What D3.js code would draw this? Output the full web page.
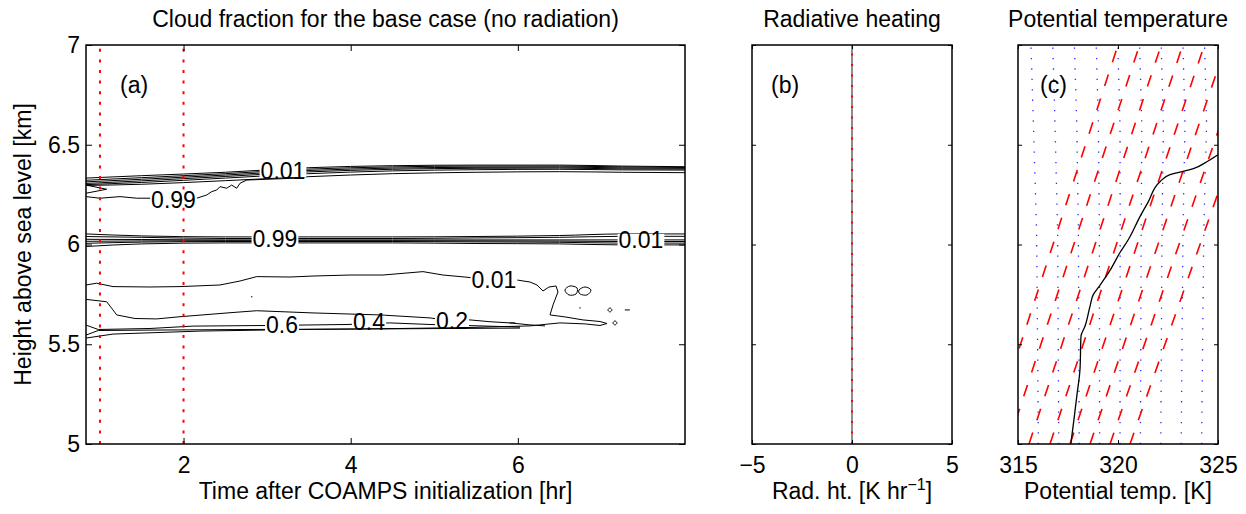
<!DOCTYPE html>
<html>
<head>
<meta charset="utf-8">
<script src="https://cdn.jsdelivr.net/npm/d3@7"></script>
<style>
  body { margin: 0; background: #fff; }
  svg { font-family: "Liberation Sans", Arial, Helvetica, sans-serif; }
</style>
</head>
<body>
<div id="chart"></div>
<script>
// ---- data ----
const heightTicks = [5, 5.5, 6, 6.5, 7];
const timeTicks = [2, 4, 6];
const heatTicks = [-5, 0, 5];
const thetaTicks = [315, 320, 325];
const markerTimes = [1, 2];

// (a) cloud fraction contours, time [hr] / height [km]
const bandTime = [0.833, 1.5, 2.5, 3.5, 4.5, 5.5, 6.5, 7.25, 8.0];
const upperBand = [
  [6.333, 6.345, 6.362, 6.385, 6.395, 6.398, 6.398, 6.393, 6.390],
  [6.322, 6.335, 6.355, 6.378, 6.389, 6.393, 6.393, 6.389, 6.386],
  [6.314, 6.327, 6.348, 6.371, 6.383, 6.387, 6.388, 6.384, 6.382],
  [6.306, 6.319, 6.341, 6.364, 6.377, 6.382, 6.383, 6.379, 6.378],
  [6.300, 6.311, 6.333, 6.355, 6.369, 6.375, 6.377, 6.374, 6.373],
  [6.296, 6.302, 6.320, 6.340, 6.355, 6.362, 6.365, 6.362, 6.360]
];
const middleBand = [
  [6.053, 6.043, 6.038, 6.038, 6.038, 6.040, 6.045, 6.053, 6.053],
  [6.040, 6.036, 6.030, 6.030, 6.030, 6.033, 6.036, 6.041, 6.041],
  [6.026, 6.025, 6.023, 6.023, 6.023, 6.023, 6.023, 6.023, 6.023],
  [6.016, 6.018, 6.019, 6.019, 6.019, 6.018, 6.017, 6.015, 6.015],
  [6.006, 6.012, 6.015, 6.015, 6.015, 6.013, 6.011, 6.007, 6.007],
  [5.990, 6.003, 6.008, 6.008, 6.008, 6.005, 6.003, 5.998, 5.998]
];
const upperTip = [[0.833, 6.298], [1.080, 6.277], [0.833, 6.257]];
const upperWiggle = [
  [0.833, 6.240], [1.0, 6.232], [1.24, 6.240], [1.44, 6.232], [1.599, 6.232], [1.874, 6.228],
  [2.157, 6.232], [2.277, 6.248], [2.337, 6.265], [2.397, 6.273], [2.436, 6.290], [2.516, 6.282],
  [2.576, 6.298], [2.636, 6.282], [2.676, 6.307], [2.756, 6.323], [2.995, 6.327], [3.394, 6.333]
];
const lowerOuter = [
  [0.833, 5.797], [0.961, 5.806], [1.156, 5.789], [1.599, 5.787], [1.958, 5.789], [2.436, 5.797],
  [2.676, 5.817], [2.875, 5.839], [3.274, 5.837], [3.549, 5.842], [3.992, 5.847], [4.386, 5.847],
  [4.865, 5.864], [5.104, 5.847], [5.367, 5.837], [5.714, 5.822], [5.990, 5.822], [6.145, 5.812],
  [6.229, 5.797], [6.301, 5.767], [6.373, 5.787], [6.457, 5.792], [6.480, 5.762], [6.421, 5.697],
  [6.385, 5.647], [6.564, 5.637], [6.779, 5.622], [6.983, 5.614], [7.066, 5.604], [6.983, 5.594],
  [6.803, 5.602], [6.504, 5.607], [6.145, 5.592], [5.427, 5.584], [4.590, 5.579], [3.394, 5.574],
  [2.197, 5.566], [1.156, 5.551], [0.833, 5.531]
];
const lowerMid = [
  [0.833, 5.725], [1.080, 5.713], [1.156, 5.672], [1.200, 5.647], [1.419, 5.629], [1.679, 5.627],
  [1.958, 5.638], [2.556, 5.658], [2.875, 5.668], [3.549, 5.657], [4.351, 5.647], [4.949, 5.632],
  [5.212, 5.617], [5.427, 5.622], [5.666, 5.613], [5.906, 5.607], [6.145, 5.597], [6.325, 5.592]
];
const lowerInner = [
  [0.833, 5.596], [0.980, 5.574], [1.599, 5.579], [2.113, 5.591], [2.999, 5.594], [3.370, 5.596],
  [3.956, 5.599], [4.467, 5.607], [4.949, 5.599], [5.547, 5.592], [6.026, 5.586]
];
const lowerBase = [
  [0.833, 5.546], [0.980, 5.569], [1.599, 5.571], [2.795, 5.574], [3.992, 5.576], [5.188, 5.579],
  [6.026, 5.581]
];
const islands = [
  [[6.564, 5.772], [6.624, 5.792], [6.708, 5.782], [6.696, 5.752], [6.612, 5.747]],
  [[6.732, 5.772], [6.804, 5.787], [6.875, 5.772], [6.827, 5.747], [6.744, 5.752]],
  [[7.078, 5.672], [7.102, 5.682], [7.126, 5.672], [7.102, 5.662]],
  [[7.138, 5.607], [7.162, 5.617], [7.186, 5.607], [7.162, 5.597]]
];
const specks = [
  [[7.28, 5.672], [7.34, 5.672]],
  [[6.735, 5.682], [6.752, 5.682]],
  [[2.807, 5.738], [2.824, 5.738]],
  [[5.90, 5.607], [5.97, 5.607]]
];
const contourLabels = [
  { text: "0.01", t: 3.19, z: 6.368 },
  { text: "0.99", t: 1.88, z: 6.226 },
  { text: "0.99", t: 3.094, z: 6.028 },
  { text: "0.01", t: 7.473, z: 6.023 },
  { text: "0.01", t: 5.714, z: 5.822 },
  { text: "0.6", t: 3.178, z: 5.596 },
  { text: "0.4", t: 4.219, z: 5.612 },
  { text: "0.2", t: 5.212, z: 5.617 }
];

// (b) radiative heating profile (zero everywhere)
const heatProfile = [[0, 5], [0, 7]];

// (c) potential temperature profile
const profileTheta = [317.64, 317.80, 317.94, 318.10, 318.15, 318.35, 318.60, 318.77, 319.02, 319.60,
  320.10, 320.52, 321.10, 321.52, 322.10, 322.60, 323.77, 324.44, 325.0];
const profileHeight = [5.0, 5.125, 5.24, 5.375, 5.54, 5.59, 5.69, 5.75, 5.785, 5.87,
  5.96, 6.025, 6.14, 6.215, 6.315, 6.35, 6.38, 6.415, 6.45];
// blue dotted reference lines: theta at heights blueHeights
const blueHeights = [5, 6.07, 6.6, 7];
const blueLines = [
  [316.02, 315.93, 315.77, 315.65],
  [317.04, 316.98, 316.85, 316.74],
  [318.06, 318.02, 317.94, 317.82],
  [319.08, 319.07, 319.02, 318.91],
  [320.10, 320.11, 320.10, 319.99],
  [321.12, 321.16, 321.19, 321.08],
  [322.14, 322.20, 322.27, 322.16],
  [323.16, 323.25, 323.35, 323.25],
  [324.18, 324.29, 324.43, 324.33]
];
// red dashed reference lines: theta at 5 km and at 7 km
const redBottom = [313.5, 314.5, 315.55, 316.6, 317.6, 318.6, 319.6, 320.6];
const redTop = [320.0, 321.08, 322.16, 323.24, 324.32, 325.4, 326.5, 327.6];

// ---- drawing ----
const width = 1246, height = 514;
const FS = 23;

const svg = d3.select("#chart").append("svg")
  .attr("width", width)
  .attr("height", height);

const y = d3.scaleLinear().domain([5, 7]).range([444, 45]);
const xa = d3.scaleLinear().domain([0.833, 8]).range([86, 685]);
const xb = d3.scaleLinear().domain([-5, 5]).range([752, 952]);
const xc = d3.scaleLinear().domain([315, 325]).range([1018, 1218]);

const defs = svg.append("defs");
function clip(id, x) {
  defs.append("clipPath").attr("id", id).append("rect")
    .attr("x", x.range()[0]).attr("y", y.range()[1])
    .attr("width", x.range()[1] - x.range()[0])
    .attr("height", y.range()[0] - y.range()[1]);
}
clip("clip-a", xa); clip("clip-b", xb); clip("clip-c", xc);

function styleAxis(sel) {
  sel.attr("font-family", null).attr("font-size", FS);
  sel.select(".domain").remove();
  sel.selectAll(".tick line").attr("stroke", "#000").attr("stroke-width", 1);
}

function drawAxes(x, xTicks, fmt, tick, withYLabels) {
  const [x0, x1] = x.range();
  const [yb, yt] = y.range();
  const g = svg.append("g");
  g.append("g").attr("transform", `translate(0,${yb})`)
    .call(d3.axisBottom(x).tickValues(xTicks).tickFormat(fmt)
      .tickSizeInner(-tick).tickSizeOuter(0).tickPadding(13))
    .call(styleAxis);
  g.append("g").attr("transform", `translate(0,${yt})`)
    .call(d3.axisTop(x).tickValues(xTicks).tickFormat("")
      .tickSizeInner(-tick).tickSizeOuter(0))
    .call(styleAxis);
  g.append("g").attr("transform", `translate(${x0},0)`)
    .call(d3.axisLeft(y).tickValues(heightTicks)
      .tickFormat(withYLabels ? d3.format("") : "")
      .tickSizeInner(-tick).tickSizeOuter(0).tickPadding(6))
    .call(styleAxis);
  g.append("g").attr("transform", `translate(${x1},0)`)
    .call(d3.axisRight(y).tickValues(heightTicks).tickFormat("")
      .tickSizeInner(-tick).tickSizeOuter(0))
    .call(styleAxis);
  g.append("rect")
    .attr("x", x0).attr("y", yt)
    .attr("width", x1 - x0).attr("height", yb - yt)
    .attr("fill", "none").attr("stroke", "#000").attr("stroke-width", 1.5);
}

// ---- panel (a) ----
const lineA = d3.line().x(d => xa(d[0])).y(d => y(d[1]));
const smoothA = d3.line().x(d => xa(d[0])).y(d => y(d[1])).curve(d3.curveMonotoneX);
const closedA = d3.line().x(d => xa(d[0])).y(d => y(d[1])).curve(d3.curveCardinalClosed);

const ga = svg.append("g").attr("clip-path", "url(#clip-a)");
const cont = ga.append("g").attr("fill", "none").attr("stroke", "#000").attr("stroke-width", 1);

upperBand.concat(middleBand).forEach(zs => {
  cont.append("path").attr("d", smoothA(bandTime.map((t, i) => [t, zs[i]])));
});
[upperTip, upperWiggle, lowerOuter, lowerMid, lowerInner, lowerBase].concat(specks)
  .forEach(pts => cont.append("path").attr("d", lineA(pts)));
islands.forEach(pts => cont.append("path").attr("d", closedA(pts)));

markerTimes.forEach(t => {
  ga.append("line")
    .attr("x1", xa(t)).attr("x2", xa(t))
    .attr("y1", y(5)).attr("y2", y(7))
    .attr("stroke", "#ff0000").attr("stroke-width", 2)
    .attr("stroke-dasharray", "3,7.6");
});

const labs = ga.append("g");
contourLabels.forEach(d => {
  const t = labs.append("text")
    .attr("x", xa(d.t)).attr("y", y(d.z))
    .attr("dy", "0.36em")
    .attr("text-anchor", "middle")
    .attr("font-size", FS)
    .text(d.text);
  const bb = t.node().getBBox();
  labs.insert("rect", () => t.node())
    .attr("x", bb.x - 1).attr("y", y(d.z) - 6)
    .attr("width", bb.width + 2).attr("height", 12)
    .attr("fill", "#fff");
});

drawAxes(xa, timeTicks, d3.format("d"), 6, true);

// ---- panel (b) ----
const lineB = d3.line().x(d => xb(d[0])).y(d => y(d[1]));
const gb = svg.append("g").attr("clip-path", "url(#clip-b)");
gb.append("path").attr("d", lineB(heatProfile))
  .attr("fill", "none").attr("stroke", "#666").attr("stroke-width", 1.5);
gb.append("path").attr("d", lineB(heatProfile))
  .attr("fill", "none").attr("stroke", "#ff0000").attr("stroke-width", 2)
  .attr("stroke-dasharray", "2,8.5");
drawAxes(xb, heatTicks, d => d < 0 ? "\u2212" + Math.abs(d) : d, 4, false);

// ---- panel (c) ----
const lineC = d3.line().x(d => xc(d[0])).y(d => y(d[1]));
const gc = svg.append("g").attr("clip-path", "url(#clip-c)");
blueLines.forEach(th => {
  gc.append("path").attr("d", lineC(th.map((v, i) => [v, blueHeights[i]])))
    .attr("fill", "none").attr("stroke", "#2a2aff").attr("stroke-width", 1.3)
    .attr("stroke-dasharray", "1.3,9.1");
});
redBottom.forEach((b, i) => {
  gc.append("path").attr("d", lineC([[b, 5], [redTop[i], 7]]))
    .attr("fill", "none").attr("stroke", "#ff0000").attr("stroke-width", 1.6)
    .attr("stroke-dasharray", "12,13.1");
});
gc.append("path")
  .attr("d", lineC.curve(d3.curveMonotoneY)(profileTheta.map((v, i) => [v, profileHeight[i]])))
  .attr("fill", "none").attr("stroke", "#000").attr("stroke-width", 1.3);
drawAxes(xc, thetaTicks, d3.format("d"), 4, false);

// ---- text ----
const txt = svg.append("g").attr("font-size", FS).attr("fill", "#000");
txt.append("text").attr("x", 385.5).attr("y", 27).attr("text-anchor", "middle")
  .text("Cloud fraction for the base case (no radiation)");
txt.append("text").attr("x", 852).attr("y", 27).attr("text-anchor", "middle")
  .text("Radiative heating");
txt.append("text").attr("x", 1118).attr("y", 27).attr("text-anchor", "middle")
  .text("Potential temperature");

txt.append("text").attr("x", 385.5).attr("y", 499).attr("text-anchor", "middle")
  .text("Time after COAMPS initialization [hr]");
const rl = txt.append("text").attr("x", 852).attr("y", 499).attr("text-anchor", "middle");
rl.append("tspan").text("Rad. ht. [K hr");
rl.append("tspan").attr("dy", -9).attr("font-size", 16).text("\u22121");
rl.append("tspan").attr("dy", 9).text("]");
txt.append("text").attr("x", 1118).attr("y", 499).attr("text-anchor", "middle")
  .text("Potential temp. [K]");

txt.append("text")
  .attr("transform", `translate(31,${(y(5) + y(7)) / 2}) rotate(-90)`)
  .attr("text-anchor", "middle")
  .text("Height above sea level [km]");

txt.append("text").attr("x", 120).attr("y", 93).text("(a)");
txt.append("text").attr("x", 771).attr("y", 93).text("(b)");
txt.append("text").attr("x", 1040).attr("y", 93).text("(c)");
</script>
</body>
</html>
